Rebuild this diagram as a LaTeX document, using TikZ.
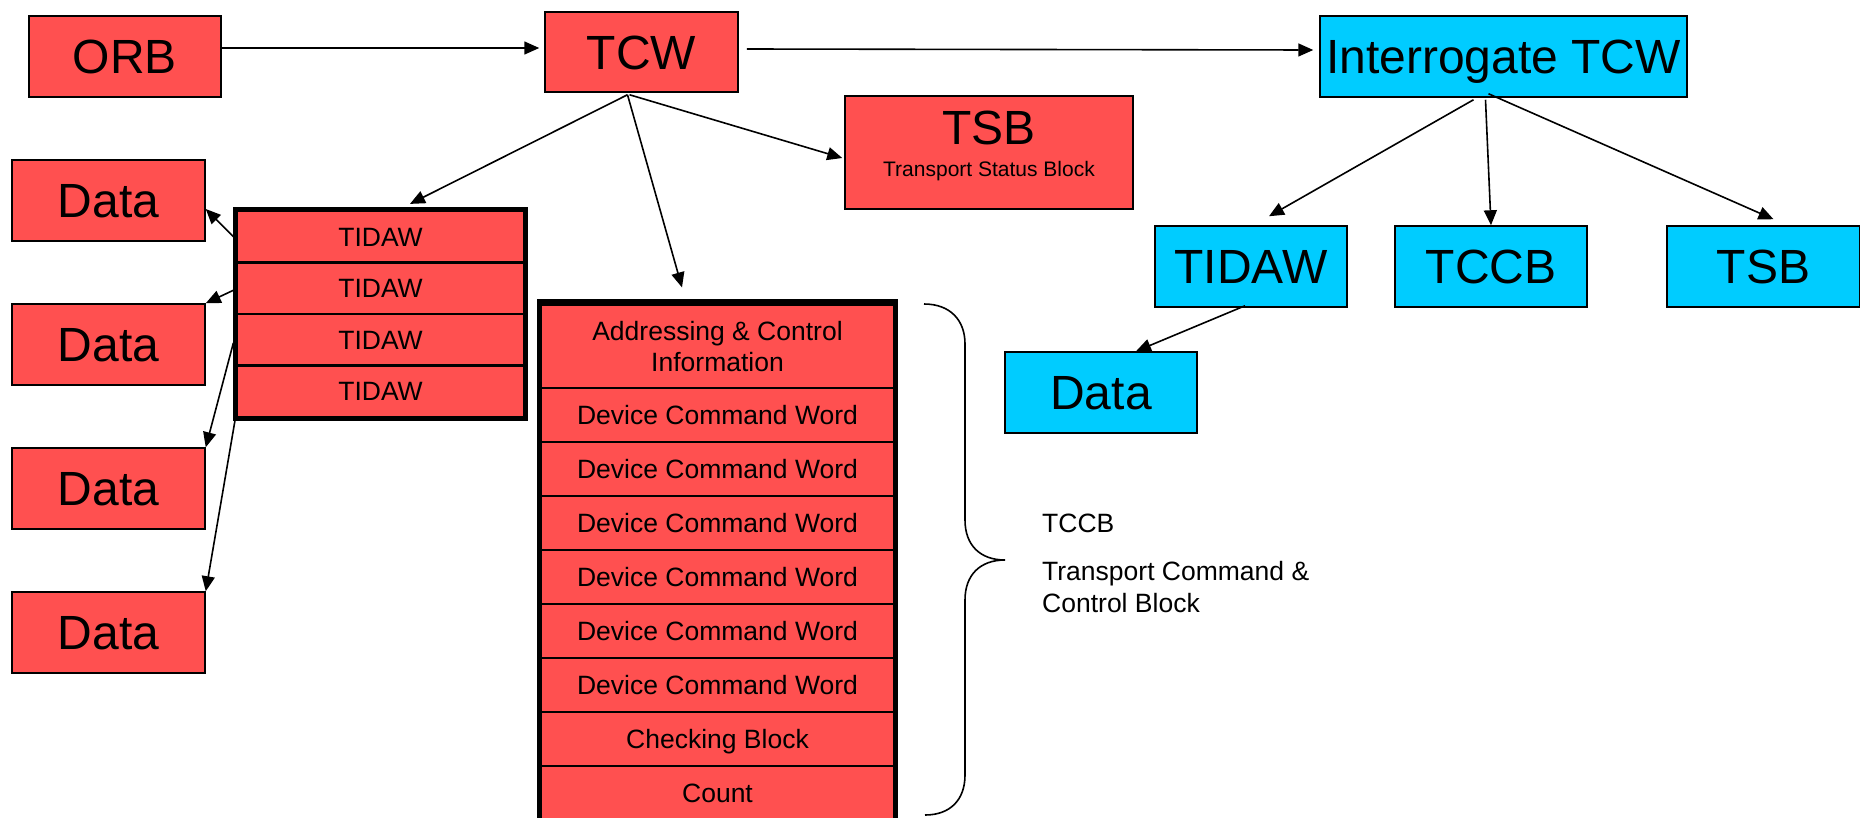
\documentclass[tikz,border=0pt]{standalone}
\usepackage{fontspec}
\setmainfont{Liberation Sans}
\usetikzlibrary{arrows.meta}
\definecolor{tred}{HTML}{FF5050}
\definecolor{tblue}{HTML}{00CCFF}
\begin{document}
\begin{tikzpicture}[x=1pt,y=-1pt,
  box/.style={draw=black, line width=1.5pt, inner sep=0pt,
    font=\fontsize{48}{52}\selectfont, text height=34.4pt, text depth=0pt},
  redbox/.style={box, fill=tred},
  bluebox/.style={box, fill=tblue},
  rowbox/.style={draw=black, line width=2.2pt, fill=tred, inner sep=0pt,
    font=\fontsize{26.5}{31}\selectfont},
  capline/.style={text height=19pt, text depth=0pt},
  lbl/.style={inner sep=0pt, font=\fontsize{26.5}{31}\selectfont, anchor=base west},
  arr/.style={-{Triangle[length=15pt,width=13pt]}, line width=1.6pt},
  brace/.style={line width=1.6pt}]
\useasboundingbox (0,0) rectangle (1860,817);

% top row
\node[redbox, minimum width=192pt, minimum height=81pt] (orb) at (125,56.5) {ORB};
\node[redbox, minimum width=193pt, minimum height=80pt] (tcw) at (641.5,52) {TCW};
\node[bluebox, minimum width=367pt, minimum height=81pt] (itcw) at (1503.5,56.5) {Interrogate TCW};

% red TSB
\node[redbox, minimum width=288pt, minimum height=113pt] (tsb) at (989,152.5) {};
\node[anchor=base, inner sep=0pt, font=\fontsize{48}{52}\selectfont] (tsbt) at (989,144) {TSB};
\node[anchor=base, inner sep=0pt, font=\fontsize{21}{24}\selectfont] (tsbs) at (989,176) {Transport Status Block};

% data boxes (red)
\foreach \i/\yy in {1/200.5,2/344.5,3/488.5,4/632.5}
  \node[redbox, minimum width=193pt, minimum height=81pt] (d\i) at (108.5,\yy) {Data};

% TIDAW block
\foreach \i in {1,...,4}
  \node[rowbox, capline, minimum width=288pt, minimum height=51.5pt] (t\i) at (380.5,{211+51.5*\i-25.75}) {TIDAW};
\draw[line width=5pt] (t1.north west) rectangle (t4.south east);

% TCCB block
\node[rowbox, align=center, minimum width=354pt, minimum height=85pt] (c1) at (717.5,347) {Addressing \& Control\\Information};
\foreach \i/\t in {2/Device Command Word,3/Device Command Word,4/Device Command Word,5/Device Command Word,6/Device Command Word,7/Device Command Word,8/Checking Block,9/Count}
  \node[rowbox, capline, minimum width=354pt, minimum height=54pt] (c\i) at (717.5,{388+54*(\i-2)+27}) {\t};
\draw[line width=5pt] ([yshift=1.5pt]c1.north west) rectangle (c9.south east);

% brace
\draw[brace] (924,304) .. controls (950,304) and (965,320) .. (965,344) -- (965,520)
  .. controls (965,545) and (980,560) .. (1005,560)
  .. controls (980,560) and (965,575) .. (965,600) -- (965,775)
  .. controls (965,800) and (950,815) .. (925,815);
\node[lbl] (tccbl) at (1042,532) {TCCB};
\node[lbl] (tccbl2) at (1042,580) {Transport Command \&};
\node[lbl] (tccbl3) at (1042,612) {Control Block};

% blue lower boxes
\node[bluebox, minimum width=192pt, minimum height=81pt] (tidawb) at (1251,266.5) {TIDAW};
\node[bluebox, minimum width=192pt, minimum height=81pt] (tccbb) at (1491,266.5) {TCCB};
\node[bluebox, minimum width=193pt, minimum height=81pt] (tsbb) at (1763.5,266.5) {TSB};
\node[bluebox, minimum width=192pt, minimum height=81pt] (datab) at (1101,392.5) {Data};

% connectors
\draw[arr] ([yshift=8.5pt]orb.east) -- ([xshift=-5pt,yshift=4pt]tcw.west);
\draw[arr] ([xshift=8pt,yshift=3pt]tcw.east) -- ([xshift=-6pt,yshift=6.5pt]itcw.west);
\draw[arr] ([xshift=-14pt,yshift=-2pt]tcw.south) -- ([xshift=29.5pt,yshift=6pt]t1.north);
\draw[arr] ([xshift=-14pt,yshift=-2pt]tcw.south) -- ([xshift=-35.5pt,yshift=16pt]c1.north);
\draw[arr] ([xshift=-12pt,yshift=-2pt]tcw.south) -- ([xshift=-2pt,yshift=-5.5pt]tsb.west);

\draw[arr] ([xshift=-2pt]t1.west) -- ([yshift=-8.5pt]d1.east);
\draw[arr] ([xshift=-2pt,yshift=-2pt]t2.west) -- (d2.north east);
\draw[arr] ([xshift=-2pt,yshift=-3pt]t3.west) -- (d3.north east);
\draw[arr] (t4.south west) -- (d4.north east);

\draw[arr] ([xshift=-30pt,yshift=-2pt]itcw.south) -- ([xshift=18pt,yshift=9pt]tidawb.north);
\draw[arr] ([xshift=-18pt,yshift=-2pt]itcw.south) -- (tccbb.north);
\draw[arr] ([xshift=-15pt,yshift=4pt]itcw.south) -- ([xshift=10pt,yshift=6pt]tsbb.north);
\draw[arr] ([xshift=-6pt,yshift=2pt]tidawb.south) -- ([xshift=35pt]datab.north);
\end{tikzpicture}
\end{document}
